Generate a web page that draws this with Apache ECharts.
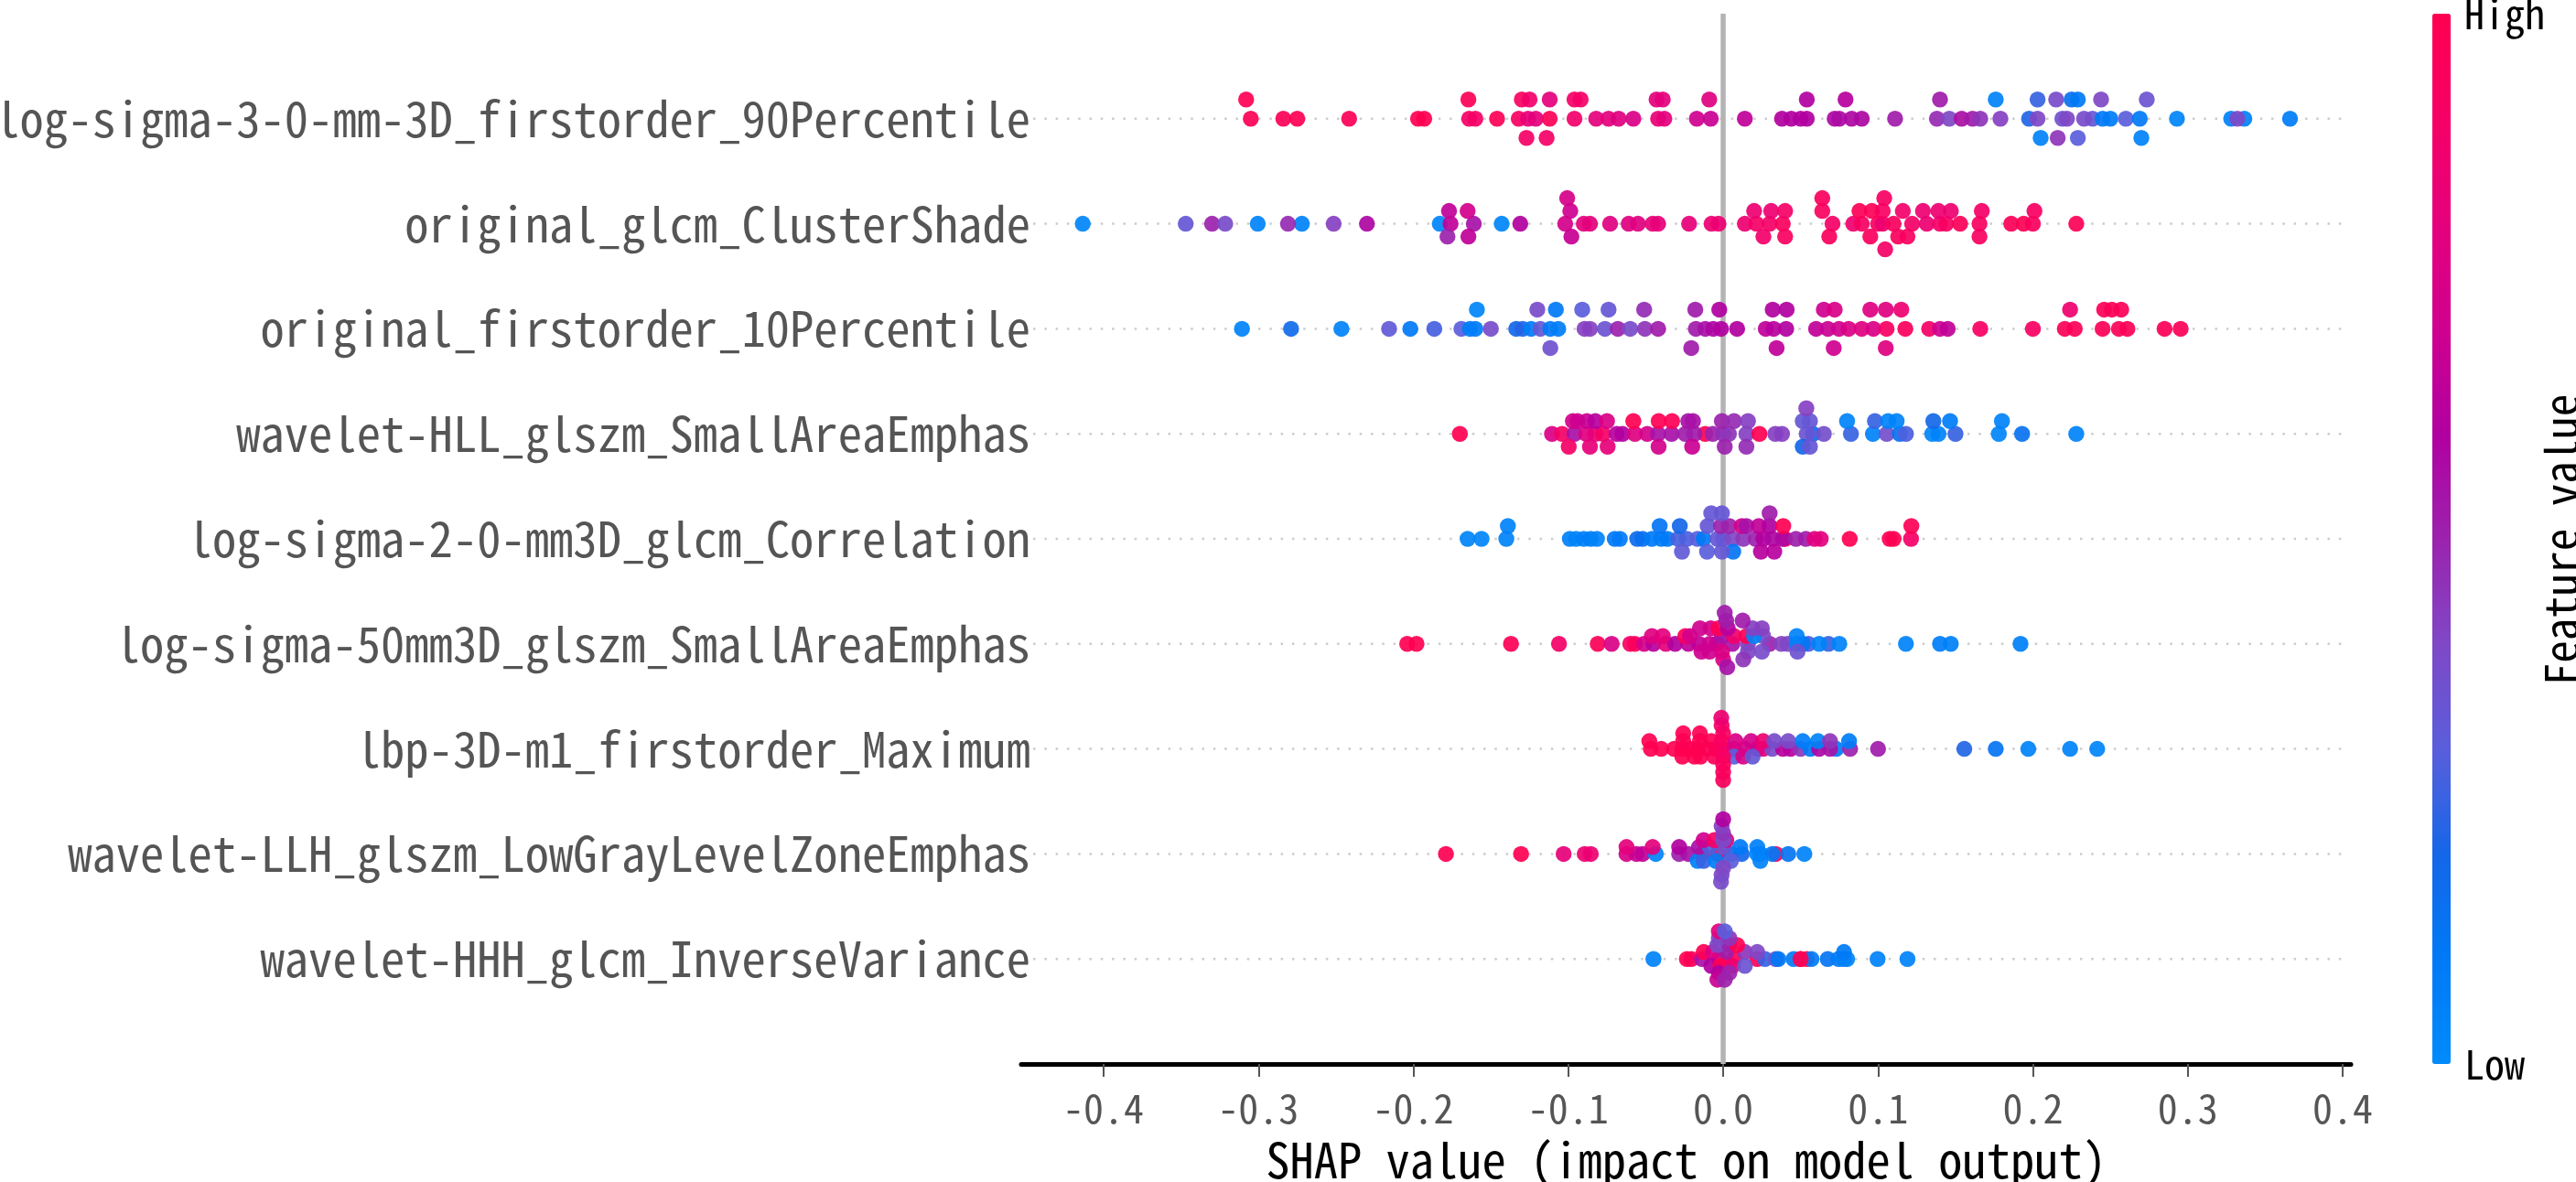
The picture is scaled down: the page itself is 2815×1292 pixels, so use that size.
<!DOCTYPE html>
<html>
<head>
<meta charset="utf-8">
<title>SHAP summary</title>
<script src="https://cdn.jsdelivr.net/npm/echarts@6/dist/echarts.min.js"></script>
<style>
html, body { margin: 0; height: 100%; overflow: hidden; background: #fff; }
#main { width: 100%; height: 100%; }
</style>
</head>
<body>
<div id="main"></div>
<script>
var features = [
  'log-sigma-3-0-mm-3D_firstorder_90Percentile',
  'original_glcm_ClusterShade',
  'original_firstorder_10Percentile',
  'wavelet-HLL_glszm_SmallAreaEmphas',
  'log-sigma-2-0-mm3D_glcm_Correlation',
  'log-sigma-50mm3D_glszm_SmallAreaEmphas',
  'lbp-3D-m1_firstorder_Maximum',
  'wavelet-LLH_glszm_LowGrayLevelZoneEmphas',
  'wavelet-HHH_glcm_InverseVariance'
];
var xTicks = [-0.4, -0.3, -0.2, -0.1, 0, 0.1, 0.2, 0.3, 0.4];

// every point: [shap value, swarm lane, feature value 0..1]
var row1 = [
  [-.308,1,.99],[-.1645,1,.97],[-.13,1,.93],[-.125,1,.88],[-.112,1,.8],[-.096,1,.9],[-.092,1,.9],[-.043,1,.8],[-.039,1,.8],[-.009,1,.78],[.054,1,.6],[.079,1,.62],[.14,1,.52],[.176,1,.05],[.203,1,.25],[.215,1,.38],[.225,1,.15],[.229,1,.1],[.244,1,.4],[.2735,1,.35],
  [-.305,0,.98],[-.284,0,.97],[-.275,0,.99],[-.2415,0,.97],[-.197,0,1],[-.193,0,1],[-.164,0,.9],[-.16,0,.9],[-.146,0,.98],[-.132,0,.92],[-.126,0,.82],[-.121,0,.8],[-.112,0,.97],[-.096,0,.88],[-.082,0,.8],[-.074,0,.8],[-.0675,0,.78],[-.058,0,.75],[-.042,0,.83],[-.038,0,.8],[-.017,0,.7],[-.008,0,.68],[.014,0,.65],[.038,0,.6],[.044,0,.6],[.05,0,.6],[.054,0,.6],[.072,0,.58],[.075,0,.57],[.083,0,.58],[.0895,0,.58],[.111,0,.52],[.138,0,.48],[.146,0,.4],[.154,0,.56],[.161,0,.52],[.166,0,.45],[.179,0,.42],[.1975,0,.22],[.203,0,.4],[.219,0,.36],[.222,0,.4],[.2385,0,.33],[.233,0,.38],[.245,0,.1],[.25,0,.08],[.26,0,.3],[.269,0,.1],[.293,0,.03],[.328,0,.05],[.3365,0,.05],[.332,0,.4],[.366,0,.08],
  [-.127,-1,.9],[-.114,-1,.9],[.205,-1,.05],[.216,-1,.45],[.229,-1,.3],[.27,-1,.05]
];
var row2 = [
  [-.4135,0,.03],[-.347,0,.33],[-.33,0,.5],[-.3215,0,.38],[-.3005,0,.05],[-.272,0,.05],[-.281,0,.48],[-.2515,0,.42],[-.23,0,.58],[-.183,0,.03],[-.176,0,.65],[-.161,0,.55],[-.143,0,.03],[-.131,0,.6],[-.102,0,.72],[-.09,0,.8],[-.086,0,.8],[-.073,0,.78],[-.061,0,.78],[-.055,0,.78],[-.0455,0,.82],[-.042,0,.82],[-.022,0,.82],[-.0075,0,.85],[-.003,0,.85],[.014,0,.85],[.0215,0,.9],[.03,0,.9],[.0385,0,.95],[.0706,0,.9],[.084,0,.87],[.0895,0,.92],[.1,0,.93],[.103,0,.85],[.11,0,.95],[.122,0,.9],[.1315,0,.85],[.14,0,.9],[.144,0,.92],[.153,0,.97],[.1655,0,.93],[.186,0,.97],[.194,0,.98],[.2,0,.95],[.228,0,.98],
  [-.177,1,.65],[-.165,1,.72],[-.0987,1,.7],[.02,1,.85],[.031,1,.85],[.04,1,.9],[.064,1,.93],[.088,1,.97],[.096,1,.98],[.103,1,.93],[.116,1,.88],[.129,1,.85],[.139,1,.85],[.147,1,.85],[.167,1,.9],[.201,1,.92],
  [-.1007,2,.73],[.064,2,.95],[.104,2,.92],
  [-.178,-1,.5],[-.1645,-1,.65],[-.098,-1,.67],[.026,-1,.88],[.04,-1,.93],[.0685,-1,.95],[.095,-1,.95],[.113,-1,.95],[.119,-1,.93],[.1655,-1,.93],
  [.1046,-2,.9]
];
var row3 = [
  [-.159,1,.03],[-.12,1,.38],[-.108,1,.1],[-.091,1,.3],[-.074,1,.33],[-.051,1,.47],[-.018,1,.52],[-.0025,1,.6],[.032,1,.6],[.041,1,.6],[.065,1,.7],[.072,1,.75],[.095,1,.78],[.105,1,.78],[.115,1,.85],[.224,1,.87],[.246,1,.97],[.251,1,.97],[.257,1,.97],
  [-.3107,0,.05],[-.279,0,.18],[-.2465,0,.05],[-.2157,0,.32],[-.202,0,.1],[-.1865,0,.27],[-.169,0,.3],[-.1635,0,.08],[-.16,0,.08],[-.15,0,.38],[-.1336,0,.2],[-.1295,0,.22],[-.124,0,.07],[-.118,0,.33],[-.1116,0,.1],[-.1065,0,.08],[-.0895,0,.42],[-.086,0,.42],[-.0763,0,.35],[-.068,0,.5],[-.06,0,.38],[-.0505,0,.45],[-.042,0,.52],[-.0176,0,.52],[-.0115,0,.55],[-.0064,0,.58],[-.0014,0,.6],[.009,0,.6],[.0275,0,.65],[.0326,0,.62],[.0407,0,.6],[.06,0,.65],[.0676,0,.68],[.0748,0,.7],[.081,0,.75],[.0895,0,.78],[.097,0,.75],[.1055,0,.92],[.1176,0,.95],[.133,0,.9],[.14,0,.7],[.145,0,.65],[.166,0,.92],[.2,0,.92],[.2206,0,.97],[.227,0,.97],[.245,0,.97],[.2555,0,.97],[.261,0,.97],[.285,0,.97],[.2954,0,.97],
  [-.1116,-1,.36],[-.0206,-1,.52],[.0345,-1,.65],[.0714,-1,.7],[.105,-1,.78]
];
var row4 = [
  [-.17,0,1],[-.1105,0,.75],[-.104,0,.9],[-.096,0,.55],[-.0884,0,.78],[-.0825,0,.82],[-.0776,0,.9],[-.0687,0,.62],[-.065,0,.6],[-.057,0,.78],[-.049,0,.72],[-.0116,0,1],[-.042,0,.55],[-.0333,0,.55],[-.0244,0,.52],[-.0185,0,.52],[-.0067,0,.5],[0,0,.47],[.0037,0,.45],[.015,0,.42],[.0234,0,1],[.0337,0,.42],[.038,0,.42],[.058,0,.18],[.054,0,.35],[.065,0,.37],[.0825,0,.25],[.0967,0,.05],[.1056,0,.37],[.114,0,.15],[.118,0,.28],[.135,0,.04],[.139,0,.05],[.15,0,.25],[.178,0,.04],[.193,0,.14],[.228,0,.05],
  [-.097,1,.72],[-.094,1,.7],[-.088,1,.68],[-.0825,1,.62],[-.075,1,.75],[-.058,1,1],[-.0416,1,.99],[-.033,1,.98],[-.0225,1,.55],[-.0195,1,.55],[-.0008,1,.5],[.007,1,.48],[.016,1,.42],[.0514,1,.33],[.056,1,.33],[.08,1,.05],[.098,1,.25],[.1065,1,.05],[.112,1,.05],[.1357,1,.2],[.1465,1,.08],[.18,1,.05],
  [.0537,2,.42],
  [-.0997,-1,.9],[-.086,-1,.82],[-.0746,-1,.82],[-.0417,-1,.72],[-.02,-1,.68],[.001,-1,.5],[.015,-1,.47],[.0514,-1,.2],[.056,-1,.33]
];
var row5 = [
  [-.165,0,.04],[-.156,0,.04],[-.14,0,.05],[-.099,0,.06],[-.095,0,.04],[-.09,0,.06],[-.0855,0,.07],[-.0815,0,.05],[-.07,0,.1],[-.0667,0,.09],[-.0555,0,.17],[-.052,0,.15],[-.046,0,.09],[-.04,0,.08],[-.036,0,.1],[-.029,0,.27],[-.0234,0,.28],[-.0165,0,.3],[-.0126,0,.1],[-.0037,0,.33],[0,0,.33],[.006,0,.4],[.013,0,.45],[.021,0,.5],[.04,0,1],[.026,0,.6],[.032,0,.58],[.0386,0,.58],[.047,0,.5],[.0534,0,.52],[.059,0,.78],[.063,0,.8],[.0817,0,1],[.1075,0,.98],[.11,0,1],[.1213,0,.9],
  [-.139,1,.05],[-.041,1,.12],[-.028,1,.2],[-.01,1,.33],[-.0014,1,.5],[.004,1,.5],[.012,1,.72],[.015,1,.55],[.023,1,.65],[.03,1,.6],[.0388,1,.99],[.1215,1,.98],
  [-.0077,2,.33],[-.0008,2,.33],[.03,2,.52],
  [-.0266,-1,.32],[-.0104,-1,.3],[.0065,-1,.12],[-.0008,-1,.33],[.0244,-1,.62],[.033,-1,.62]
];
var row6 = [
  [-.204,0,1],[-.198,0,1],[-.137,0,.98],[-.106,0,.9],[-.081,0,.97],[-.072,0,.75],[-.06,0,.92],[-.057,0,.95],[-.051,0,.72],[-.045,0,.62],[-.037,0,.8],[-.031,0,.6],[-.0225,0,.65],[-.0156,0,.65],[-.0087,0,.7],[-.004,0,.68],[.006,0,.55],[.016,0,.42],[.03,0,.5],[.0376,0,.42],[.0416,0,.4],[.055,0,.28],[.0475,0,.06],[.0514,0,.12],[.068,0,.25],[.062,0,.05],[.075,0,.05],[.118,0,.05],[.14,0,.07],[.147,0,.06],[.192,0,.06],
  [-.046,1,.78],[-.039,1,.8],[-.0244,1,.98],[-.0215,1,.72],[-.0008,1,.55],[.007,1,.88],[.015,1,.97],[.0258,1,.4],[.02,1,.04],[.0475,1,.05],
  [-.015,2,.7],[-.008,2,.72],[-.003,2,.98],[.003,2,.62],[.019,2,.42],[.025,2,.42],
  [.002,3,.52],[.0126,3,.52],[.001,4,.52],
  [-.014,-1,.7],[-.0087,-1,.7],[-.0008,-1,.75],[.016,-1,.4],[.025,-1,.38],[.048,-1,.35],
  [0,-2,.75],[.013,-2,.45],[.0026,-3,.55]
];
var row7 = [
  [-.0467,0,1],[-.04,0,1],[-.0317,0,.99],[-.0264,0,1],[-.0215,0,1],[-.0165,0,1],[-.0106,0,.98],[-.0047,0,.95],[0,0,.9],[.007,0,.75],[.014,0,.72],[.022,0,.65],[.0258,0,.8],[.0317,0,.38],[.0386,0,.62],[.0435,0,.62],[.05,0,.45],[.0563,0,.1],[.073,0,.08],[.062,0,.58],[.069,0,.55],[.082,0,.5],[.1,0,.52],[.1557,0,.22],[.176,0,.12],[.197,0,.05],[.224,0,.05],[.2415,0,.04],
  [-.0477,1,1],[-.0258,1,.98],[-.015,1,.98],[-.0077,1,.98],[-.001,1,.92],[.008,1,.75],[.018,1,.72],[.0258,1,.85],[.033,1,.38],[.042,1,.38],[.0514,1,.07],[.0612,1,.05],[.069,1,.45],[.0813,1,.08],
  [-.0258,2,.99],[-.015,2,.99],[0,2,.93],[-.001,3,.9],[-.0012,4,.85],
  [-.0264,-1,1],[-.0185,-1,1],[-.0146,-1,.99],[-.0057,-1,.97],[.007,-1,.3],[.013,-1,.75],[.019,-1,.33],[0,-1,.92],
  [0,-2,.95],[0,-3,.95],[0,-4,.95]
];
var row8 = [
  [-.179,0,1],[-.1305,0,1],[-.103,0,.82],[-.0894,0,.85],[-.0855,0,.85],[-.0624,0,.75],[-.056,0,.68],[-.052,0,.65],[-.0435,0,.05],[-.0284,0,.5],[-.0225,0,.55],[-.0136,0,.95],[-.0037,0,1],[.005,0,.2],[.012,0,.2],[.034,0,.98],[.022,0,.05],[.024,0,.05],[.0317,0,.1],[.042,0,.13],[.0524,0,.05],
  [-.0165,-1,.06],[-.0126,-1,.25],[-.0047,-1,.07],[.005,-1,.3],[.024,-1,.05],
  [-.0624,1,.8],[-.0455,1,.8],[-.0284,1,.6],[-.0156,1,.55],[-.0087,1,.28],[0,1,.35],[.011,1,.1],[.022,1,.06],
  [-.0126,2,.7],[-.0057,2,.9],[.002,2,.75],[0,2,.38],
  [0,3,.45],[-.001,4,.42],[0,5,.6],
  [0,-2,.4],[-.001,-3,.4],[-.0014,-4,.38]
];
var row9 = [
  [-.045,0,.05],[-.0234,0,1],[-.0205,0,.97],[-.0136,0,.55],[-.0028,0,.85],[.007,0,1],[.022,0,.98],[.027,0,.25],[.034,0,.35],[.0356,0,.1],[.05,0,1],[.054,0,.98],[.0455,0,.08],[.057,0,.08],[.05,0,1],[.0675,0,.12],[.0745,0,.08],[.0777,0,.06],[.08,0,.05],[.0997,0,.05],[.119,0,.05],
  [.078,1,.1],
  [-.0126,1,1],[-.0067,1,.75],[.002,1,.52],[.014,1,.45],[.022,1,.4],
  [-.0077,-1,.6],[-.0018,-1,1],[.006,-1,.85],[.014,-1,.35],
  [-.0037,2,.4],[.004,2,.5],[.009,2,1],
  [-.0028,3,.4],[.004,3,.45],[-.0028,4,.8],[.001,4,.3],
  [-.0028,-2,.6],[.004,-2,.5],[-.0037,-3,.68],[.001,-3,.5]
];
var rows = [row1, row2, row3, row4, row5, row6, row7, row8, row9];

// lane height differs per row, like the swarm in the original plot
var laneStep = [.183, .122, .183, .122, .122, .074, .074, .066, .066];
var colorStops = ['#008bfb', '#0079f6', '#1467e8', '#5a5edb', '#7f48c6', '#9c22ad', '#b100a0', '#cf008f', '#e4007c', '#f50066', '#ff0051'];
var monoFont = '"Noto Sans Mono CJK SC", "DejaVu Sans Mono", monospace';

var points = [];
rows.forEach(function (row, r) {
  row.forEach(function (p) {
    points.push([p[0], r - p[1] * laneStep[r], p[2]]);
  });
});

var series = features.map(function (f, r) {
  return {
    type: 'line',
    silent: true,
    symbol: 'none',
    z: 1,
    lineStyle: { color: '#cccccc', width: 2.5, type: [2.5, 9.8] },
    data: [[-0.4455, r], [0.4024, r]]
  };
});
series.push({
  type: 'line',
  silent: true,
  symbol: 'none',
  z: 2,
  lineStyle: { color: '#b4b4b4', width: 5.5 },
  data: [[0, -1], [0, 9]]
});
series.push({
  type: 'scatter',
  z: 3,
  symbol: 'circle',
  symbolSize: 17.5,
  itemStyle: { opacity: 0.92 },
  data: points
});

var myChart = echarts.init(document.getElementById('main'));
myChart.setOption({
  animation: false,
  backgroundColor: '#fff',
  grid: { left: 1116, top: 15, width: 1453, height: 1148, outerBoundsMode: 'none' },
  xAxis: {
    type: 'value',
    min: -0.4532,
    max: 0.4053,
    name: 'SHAP value (impact on model output)',
    nameLocation: 'middle',
    nameGap: 79,
    nameTextStyle: { fontFamily: monoFont, fontSize: 52.5, color: '#000' },
    splitLine: { show: false },
    axisLine: { onZero: false, lineStyle: { color: '#000', width: 5 } },
    axisTick: { customValues: xTicks, length: 14, lineStyle: { color: '#555', width: 2 } },
    axisLabel: {
      customValues: xTicks,
      margin: 26,
      fontFamily: monoFont,
      fontSize: 44,
      color: '#555',
      formatter: function (v) { return v.toFixed(1); }
    }
  },
  yAxis: {
    type: 'value',
    inverse: true,
    min: -1,
    max: 9,
    interval: 1,
    axisLine: { show: false, onZero: false },
    axisTick: { show: false },
    splitLine: { show: false },
    axisLabel: {
      margin: -10,
      fontFamily: monoFont,
      fontSize: 52.6,
      color: '#555',
      formatter: function (v) { return features[v] || ''; }
    }
  },
  visualMap: {
    type: 'continuous',
    seriesIndex: features.length + 1,
    dimension: 2,
    min: 0,
    max: 1,
    left: 2658,
    top: 15,
    padding: 0,
    itemWidth: 20,
    itemHeight: 1148,
    calculable: false,
    showLabel: false,
    text: null,
    inRange: { color: colorStops }
  },
  graphic: [
    { type: 'text', x: 2693, y: 15, style: { text: 'High', font: '44px ' + monoFont, fill: '#000', verticalAlign: 'middle' } },
    { type: 'text', x: 2693, y: 1163, style: { text: 'Low', font: '44px ' + monoFont, fill: '#000', verticalAlign: 'middle' } },
    { type: 'text', x: 2798, y: 590, rotation: Math.PI / 2, style: { text: 'Feature value', font: '49px ' + monoFont, fill: '#000', align: 'center', verticalAlign: 'middle' } }
  ],
  series: series
});
</script>
</body>
</html>
